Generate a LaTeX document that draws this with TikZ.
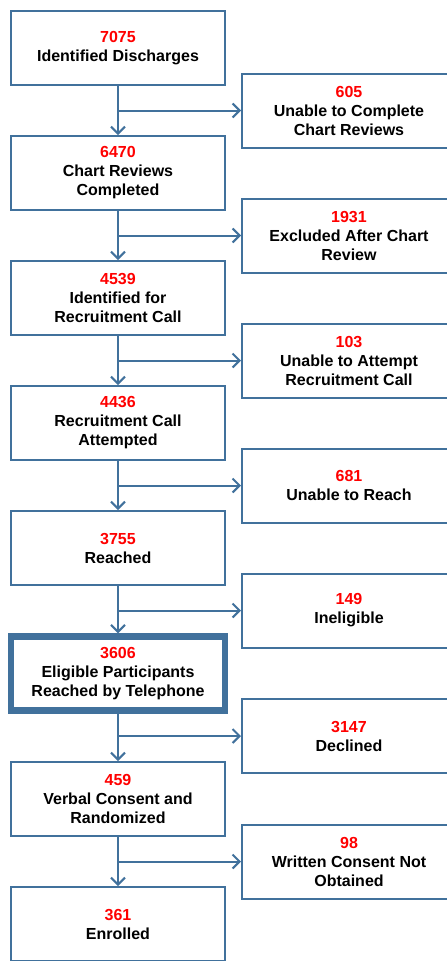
\documentclass[tikz,border=0pt]{standalone}
\usepackage{fontspec}
\setmainfont{Liberation Sans}
\usetikzlibrary{arrows.meta}
\definecolor{bl}{RGB}{65,113,156}
\definecolor{rd}{RGB}{255,0,0}
\begin{document}
\begin{tikzpicture}[x=1pt,y=-1pt,
  box/.style={draw=bl, line width=2pt, minimum width=214pt, minimum height=74pt,
    align=center, font=\bfseries\fontsize{16}{19}\selectfont, inner sep=0pt, text=black},
  bigbox/.style={box, line width=6.5pt, minimum width=214pt, minimum height=74pt},
  arr/.style={draw=bl, line width=2pt, -{Straight Barb[length=7pt,width=14pt,line width=2pt]}}]
\useasboundingbox (0,0) rectangle (447,961);
\clip (0,0) rectangle (447,961);
\fill[white] (0,0) rectangle (447,961);
% left column
\node[box] (a1) at (118,48) {\textcolor{rd}{7075}\\Identified Discharges};
\node[box] (a2) at (118,173) {\textcolor{rd}{6470}\\Chart Reviews\\Completed};
\node[box] (a3) at (118,298) {\textcolor{rd}{4539}\\Identified for\\Recruitment Call};
\node[box] (a4) at (118,423) {\textcolor{rd}{4436}\\Recruitment Call\\Attempted};
\node[box] (a5) at (118,548) {\textcolor{rd}{3755}\\Reached};
\node[bigbox] (a6) at (118,673.5) {\textcolor{rd}{3606}\\Eligible Participants\\Reached by Telephone};
\node[box] (a7) at (118,799) {\textcolor{rd}{459}\\Verbal Consent and\\Randomized};
\node[box] (a8) at (118,924) {\textcolor{rd}{361}\\Enrolled};
% right column
\node[box] (r1) at (349,110.5) {\textcolor{rd}{605}\\Unable to Complete\\Chart Reviews};
\node[box] (r2) at (349,235.5) {\textcolor{rd}{1931}\\Excluded After Chart\\Review};
\node[box] (r3) at (349,360.5) {\textcolor{rd}{103}\\Unable to Attempt\\Recruitment Call};
\node[box] (r4) at (349,485.5) {\textcolor{rd}{681}\\Unable to Reach};
\node[box] (r5) at (349,610.5) {\textcolor{rd}{149}\\Ineligible};
\node[box] (r6) at (349,736) {\textcolor{rd}{3147}\\Declined};
\node[box] (r7) at (349,861.5) {\textcolor{rd}{98}\\Written Consent Not\\Obtained};
% connectors
\foreach \i/\j in {1/2,2/3,3/4,4/5,5/6,6/7,7/8} {
  \draw[arr] (a\i.south) -- (a\j.north);
  \draw[arr] (a\i.south |- r\i.west) -- (r\i.west);
}
\end{tikzpicture}
\end{document}
